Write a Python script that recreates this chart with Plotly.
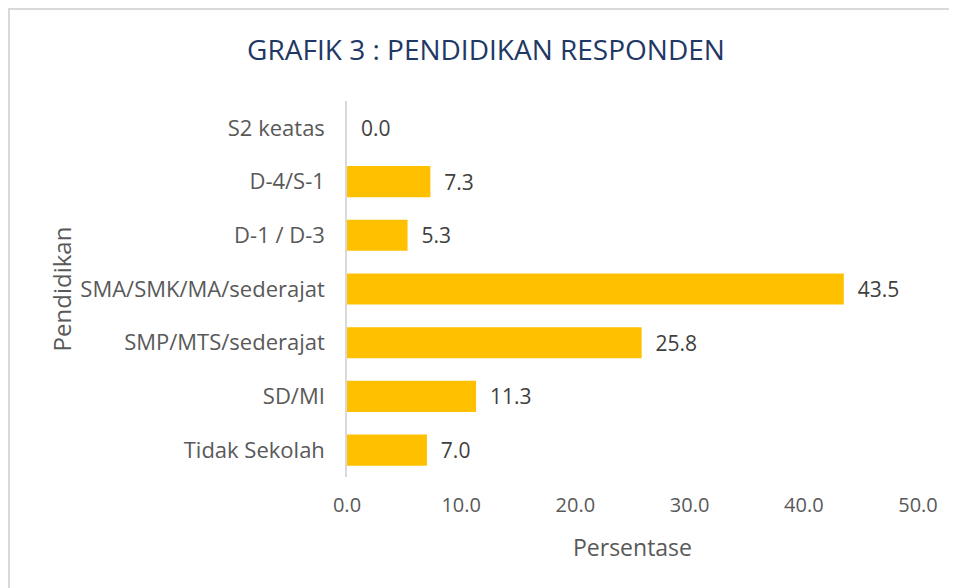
import plotly.graph_objects as go

categories = ["Tidak Sekolah", "SD/MI", "SMP/MTS/sederajat", "SMA/SMK/MA/sederajat",
              "D-1 / D-3", "D-4/S-1", "S2 keatas"]
values = [7.0, 11.3, 25.8, 43.5, 5.3, 7.3, 0.0]
x_ticks = [0, 10, 20, 30, 40, 50]

FONT = "Open Sans"
GRAY = "#595959"

W, H = 949, 580
ML, MR, MT, MB = 339, 39, 93, 111
PW, PH = W - ML - MR, H - MT - MB

fig = go.Figure(go.Bar(
    y=categories, x=values, orientation="h",
    marker=dict(color="#FFC000", line=dict(width=0)),
    width=0.58,
    text=["\u00a0\u00a0" + f"{v:.1f}" for v in values], textposition="outside",
    textfont=dict(family=FONT, size=21, color="#404040"),
    cliponaxis=False,
))

fig.update_layout(
    width=W, height=H,
    paper_bgcolor="white", plot_bgcolor="white",
    margin=dict(l=ML, r=MR, t=MT, b=MB),
    showlegend=False,
    title=dict(text="GRAFIK 3 : PENDIDIKAN RESPONDEN", x=(486 - 8) / W, xanchor="center",
               xref="container",
               y=1 - 42 / H, yanchor="middle",
               font=dict(family=FONT, size=28, color="#1F3864")),
    xaxis=dict(range=[0, 50], tickvals=x_ticks, ticktext=[f"{t:.1f}" for t in x_ticks],
               showgrid=False, zeroline=False, showline=False, ticks="",
               ticklabelstandoff=14,
               tickfont=dict(family=FONT, size=20, color=GRAY),
               title=dict(text="Persentase", font=dict(family=FONT, size=23, color=GRAY),
                          standoff=22)),
    yaxis=dict(showgrid=False, zeroline=False, showline=True, linecolor="#D9D9D9",
               linewidth=1.5, ticks="", ticklabelstandoff=16,
               tickfont=dict(family=FONT, size=22, color=GRAY),
               title=dict(text="Pendidikan", font=dict(family=FONT, size=24, color=GRAY),
                          standoff=2)),
    shapes=[dict(type="rect", xref="paper", yref="paper",
                 x0=(9 - 347) / PW, x1=1.2,
                 y0=-0.5, y1=1 + (101 - 9) / PH,
                 line=dict(color="#D9D9D9", width=2), fillcolor="rgba(0,0,0,0)", layer="below")],
)

fig.write_html("out.html")
